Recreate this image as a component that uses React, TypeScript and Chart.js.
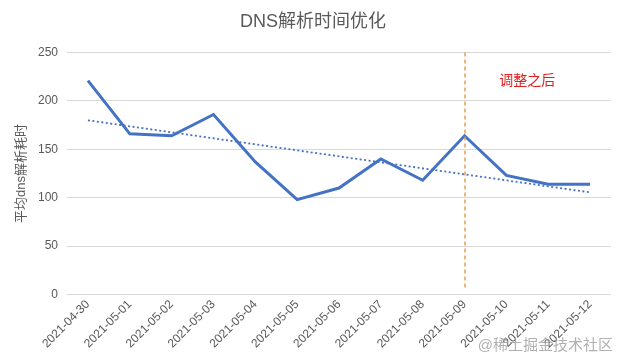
import React, { useEffect, useRef } from "react";
import { Chart, registerables } from "chart.js";

Chart.register(...registerables);

const categories = [
  "2021-04-30", "2021-05-01", "2021-05-02", "2021-05-03", "2021-05-04",
  "2021-05-05", "2021-05-06", "2021-05-07", "2021-05-08", "2021-05-09",
  "2021-05-10", "2021-05-11", "2021-05-12",
];
const dnsValues = [221, 166, 164, 186, 137, 98, 110, 140, 118, 164, 123, 114, 114];
const trendStart = 180;
const trendEnd = 105.5;
const markerCategory = "2021-05-09";
const markerLabel = "调整之后";
const titleText = "DNS解析时间优化";
const yTitle = "平均dns解析耗时";
const watermark = "@稀土掘金技术社区";

const FONT = "'Liberation Sans', 'Noto Sans CJK SC', sans-serif";

const trendValues = categories.map((_, i) =>
  i === 0 ? trendStart : i === categories.length - 1 ? trendEnd : null
);

const overlayPlugin = {
  id: "overlay",
  afterDatasetsDraw(chart: any) {
    const { ctx, scales, chartArea } = chart;
    const x = scales.x.getPixelForValue(categories.indexOf(markerCategory));
    ctx.save();
    ctx.strokeStyle = "#E0913A";
    ctx.lineWidth = 1.3;
    ctx.setLineDash([4, 3]);
    ctx.beginPath();
    ctx.moveTo(Math.round(x), chartArea.top);
    ctx.lineTo(Math.round(x), scales.y.getPixelForValue(4));
    ctx.stroke();
    ctx.setLineDash([]);
    const tx = (scales.x.getPixelForValue(10) + scales.x.getPixelForValue(11)) / 2;
    const ty = scales.y.getPixelForValue(221);
    ctx.fillStyle = "#E02020";
    ctx.font = "14px " + FONT;
    ctx.textAlign = "center";
    ctx.textBaseline = "middle";
    ctx.fillText(markerLabel, tx, ty);
    ctx.restore();
  },
  afterDraw(chart: any) {
    const { ctx, width, height } = chart;
    ctx.save();
    ctx.fillStyle = "rgba(150,150,150,0.75)";
    ctx.font = "15px " + FONT;
    ctx.textAlign = "right";
    ctx.textBaseline = "middle";
    ctx.fillText(watermark, width - 8, height - 17);
    ctx.restore();
  },
};

export default function App() {
  const ref = useRef<HTMLCanvasElement>(null);
  useEffect(() => {
    if (!ref.current) return;
    const chart = new Chart(ref.current, {
      type: "line",
      data: {
        labels: categories,
        datasets: [
          {
            data: dnsValues,
            borderColor: "#4472C4",
            borderWidth: 3,
            pointRadius: 0,
            tension: 0,
            fill: false,
          },
          {
            data: trendValues,
            borderColor: "#4472C4",
            borderWidth: 1.8,
            borderDash: [2, 2.5],
            pointRadius: 0,
            spanGaps: true,
            fill: false,
          },
        ],
      },
      options: {
        animation: false,
        responsive: false,
        layout: { padding: { left: 15, right: 10, top: 0, bottom: 9 } },
        plugins: {
          legend: { display: false },
          tooltip: { enabled: false },
          title: {
            display: true,
            text: titleText,
            color: "#595959",
            font: { size: 18, family: FONT, weight: "normal" },
            padding: { top: 11, bottom: 20 },
          },
        },
        scales: {
          x: {
            offset: true,
            grid: { display: false, drawTicks: false },
            border: { display: false },
            ticks: {
              color: "#595959",
              font: { size: 12, family: FONT },
              maxRotation: 45,
              minRotation: 45,
              autoSkip: false,
              padding: 3,
            },
          },
          y: {
            min: 0,
            max: 250,
            ticks: {
              stepSize: 50,
              color: "#595959",
              font: { size: 12, family: FONT },
              padding: 9,
            },
            grid: { color: "#D9D9D9", drawTicks: false },
            border: { display: false },
            title: {
              display: true,
              text: yTitle,
              color: "#595959",
              font: { size: 13, family: FONT, lineHeight: 1 },
              padding: { top: 0, bottom: 1 },
            },
          },
        },
      },
      plugins: [overlayPlugin],
    });
    return () => chart.destroy();
  }, []);
  return (
    <div style={{ position: "fixed", left: 0, top: 0, width: 621, height: 363, background: "#fff" }}>
      <canvas ref={ref} width={621} height={363} />
    </div>
  );
}
